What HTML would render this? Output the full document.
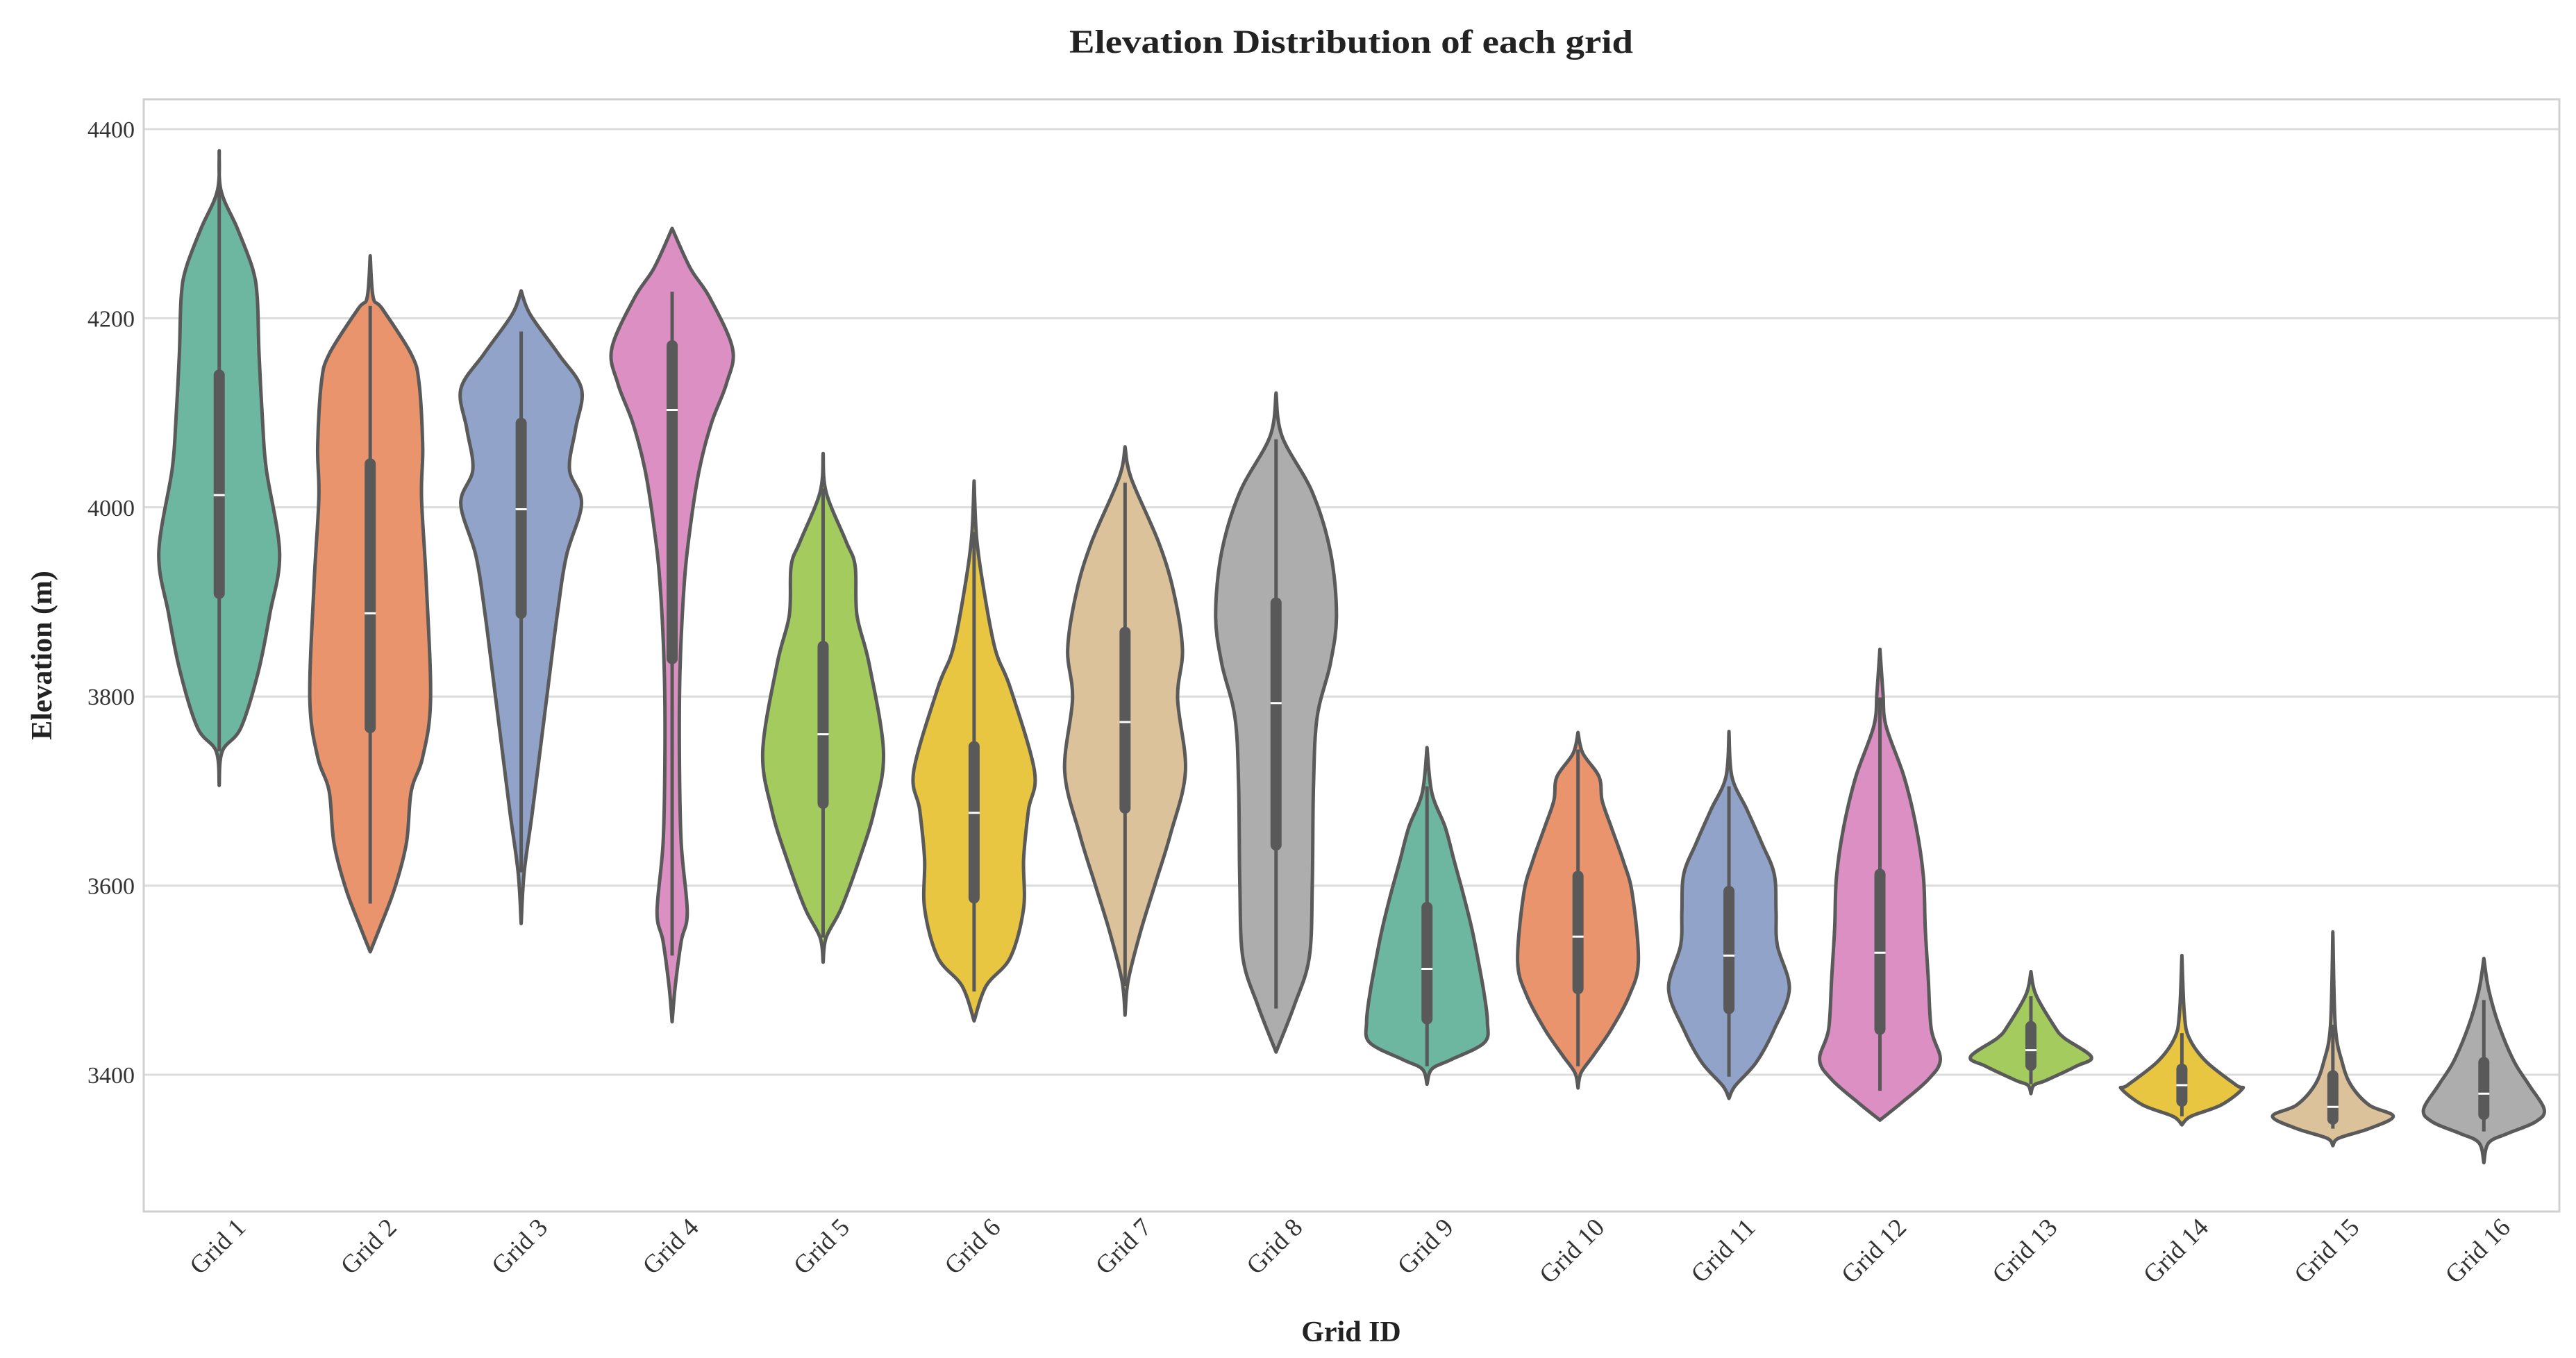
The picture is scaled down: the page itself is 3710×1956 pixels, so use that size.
<!DOCTYPE html>
<html><head><meta charset="utf-8"><style>
html,body{margin:0;padding:0;background:#fff;}
svg{display:block;font-family:"Liberation Serif","DejaVu Serif",serif;}
</style></head><body>
<svg id="chart" width="3710" height="1956" viewBox="0 0 3710 1956" xmlns="http://www.w3.org/2000/svg">
<rect x="0" y="0" width="3710" height="1956" fill="#fff"/>
<text x="1946" y="76" text-anchor="middle" font-size="48" font-weight="bold" fill="#222" textLength="812" lengthAdjust="spacingAndGlyphs">Elevation Distribution of each grid</text>
<g id="grid"></g>
<g id="violins"></g>
<rect x="207" y="143" width="3479" height="1602" fill="none" stroke="#d0d0d0" stroke-width="3"/>
<g id="yticks"></g>
<g id="xticks"></g>
<text x="0" y="0" transform="translate(74,944) rotate(-90)" text-anchor="middle" font-size="42" font-weight="bold" fill="#222">Elevation (m)</text>
<text x="1946" y="1932" text-anchor="middle" font-size="42" font-weight="bold" fill="#222">Grid ID</text>
</svg>
<script>
const categories = ["Grid 1","Grid 2","Grid 3","Grid 4","Grid 5","Grid 6","Grid 7","Grid 8","Grid 9","Grid 10","Grid 11","Grid 12","Grid 13","Grid 14","Grid 15","Grid 16"];
const yTicks = [3400,3600,3800,4000,4200,4400];
const colors = ["#6db7a0","#ea946e","#91a3c9","#dc8fc3","#a3cb5e","#e8c641","#dcc29a","#adadad","#6db7a0","#ea946e","#91a3c9","#dc8fc3","#a3cb5e","#e8c641","#dcc29a","#adadad"];
// violin profiles: elevations (top to bottom) and relative half-widths
const profElev = [
 [4377,4335,4295,4253,4222,4162,4089,4040,3952,3888,3827,3767,3742,3706],
 [4266,4222,4210,4162,4131,4064,4010,3919,3797,3736,3700,3645,3596,3554,3530],
 [4229,4204,4162,4125,4083,4040,4004,3949,3888,3797,3736,3675,3614,3560],
 [4295,4253,4222,4168,4131,4089,4040,3979,3919,3827,3736,3645,3572,3541,3493,3456],
 [4057,4016,3964,3938,3886,3835,3742,3680,3628,3576,3545,3519],
 [4028,3969,3917,3850,3809,3721,3680,3628,3576,3524,3494,3457],
 [4064,4031,3964,3912,3850,3798,3721,3654,3602,3550,3499,3463],
 [4121,4075,4016,3953,3886,3835,3778,3705,3602,3524,3473,3424],
 [3746,3698,3662,3626,3591,3555,3520,3484,3456,3434,3416,3406,3390],
 [3762,3740,3715,3690,3662,3626,3591,3520,3484,3448,3420,3402,3386],
 [3763,3715,3680,3644,3612,3573,3537,3491,3448,3413,3388,3375],
 [3850,3804,3769,3715,3662,3609,3555,3502,3448,3416,3395,3370,3352],
 [3509,3485,3452,3439,3419,3409,3394,3389,3380],
 [3526,3465,3439,3414,3389,3385,3368,3356,3347],
 [3551,3452,3414,3389,3368,3356,3343,3333,3325],
 [3523,3490,3452,3414,3389,3363,3350,3338,3328,3307]
];
const profWidth = [
 [0,0.03,0.3,0.55,0.63,0.66,0.72,0.78,1.0,0.84,0.65,0.36,0.05,0],
 [0,0.05,0.2,0.68,0.81,0.87,0.85,0.93,1.0,0.87,0.68,0.6,0.4,0.15,0],
 [0,0.15,0.62,1.0,0.9,0.8,1.0,0.75,0.6,0.42,0.3,0.18,0.05,0],
 [0,0.3,0.62,1.0,0.9,0.65,0.45,0.3,0.2,0.13,0.12,0.15,0.25,0.15,0.05,0],
 [0,0.05,0.38,0.53,0.56,0.76,1.0,0.85,0.6,0.3,0.05,0],
 [0,0.04,0.15,0.35,0.6,1.0,0.9,0.82,0.82,0.6,0.2,0],
 [0,0.1,0.55,0.8,0.95,0.87,1.0,0.75,0.5,0.25,0.05,0],
 [0,0.1,0.6,0.9,1.0,0.9,0.68,0.62,0.6,0.55,0.3,0],
 [0,0.08,0.3,0.45,0.6,0.74,0.85,0.95,1.0,0.95,0.4,0.08,0],
 [0,0.08,0.35,0.4,0.55,0.75,0.9,1.0,0.85,0.55,0.25,0.05,0],
 [0,0.05,0.3,0.55,0.75,0.78,0.8,1.0,0.75,0.45,0.1,0],
 [0,0.05,0.1,0.4,0.6,0.72,0.75,0.8,0.85,1.0,0.8,0.35,0],
 [0,0.08,0.38,0.55,1.0,0.75,0.25,0.05,0],
 [0,0.04,0.12,0.4,0.9,1.0,0.65,0.15,0],
 [0,0.04,0.15,0.3,0.6,1.0,0.6,0.1,0],
 [0,0.08,0.25,0.5,0.75,1.0,0.85,0.4,0.08,0]
];
const q1 = [3909,3767,3888,3840,3687,3587,3682,3643,3459,3491,3470,3448,3410,3372,3353,3358];
const q3 = [4140,4046,4089,4171,3853,3747,3868,3899,3577,3610,3594,3612,3451,3406,3399,3413];
const medians = [4013,3888,3998,4103,3760,3677,3773,3793,3512,3546,3526,3529,3426,3389,3366,3380];
const whiskLo = [3742,3581,3614,3526,3545,3488,3494,3470,3409,3409,3398,3383,3390,3356,3343,3340];
const whiskHi = [4335,4213,4186,4228,4020,3974,4026,4072,3705,3744,3705,3799,3483,3444,3453,3479];

const NS = "http://www.w3.org/2000/svg";
const L = 207, R = 3686, T = 143, B = 1745;
const step = (R - L) / categories.length;
const xc = i => L + step * (i + 0.5);
const y = v => 186 + (4400 - v) * 1.362;
const maxHalf = step * 0.4;
function mk(tag, attrs, parent) { const e = document.createElementNS(NS, tag); for (const k in attrs) e.setAttribute(k, attrs[k]); parent.appendChild(e); return e; }

const gG = document.getElementById('grid');
const yG = document.getElementById('yticks');
yTicks.forEach(v => {
  const ln = mk('line', {x1: L, x2: R, y1: y(v), y2: y(v), stroke: '#dcdcdc', 'stroke-width': 3}, gG);
  
  
  const t = mk('text', {x: 194, y: y(v) + 12, 'text-anchor': 'end', 'font-size': 34, fill: '#333'}, yG);
  t.textContent = v;
  
  
});

const xG = document.getElementById('xticks');
categories.forEach((c, i) => {
  const t = mk('text', {x: 0, y: 0, transform: 'translate(' + (xc(i) + 40) + ',1770) rotate(-45)', 'text-anchor': 'end', 'font-size': 37, fill: '#333'}, xG);
  t.textContent = c;
  
  
});

function smoothPath(pts) {
  let d = 'M' + pts[0][0].toFixed(1) + ',' + pts[0][1].toFixed(1);
  for (let i = 0; i < pts.length - 1; i++) {
    const p0 = pts[Math.max(0, i - 1)], p1 = pts[i], p2 = pts[i + 1], p3 = pts[Math.min(pts.length - 1, i + 2)];
    const c1 = [p1[0] + (p2[0] - p0[0]) / 6, p1[1] + (p2[1] - p0[1]) / 6];
    const c2 = [p2[0] - (p3[0] - p1[0]) / 6, p2[1] - (p3[1] - p1[1]) / 6];
    d += ' C' + c1[0].toFixed(1) + ',' + c1[1].toFixed(1) + ' ' + c2[0].toFixed(1) + ',' + c2[1].toFixed(1) + ' ' + p2[0].toFixed(1) + ',' + p2[1].toFixed(1);
  }
  return d;
}

const vG = document.getElementById('violins');
categories.forEach((c, i) => {
  const g = mk('g', {}, vG);
  
  
  const cx = xc(i);
  const el = profElev[i], w = profWidth[i];
  const right = el.map((v, k) => [cx + w[k] * maxHalf, y(v)]);
  const left = el.map((v, k) => [cx - w[k] * maxHalf, y(v)]).reverse();
  const d = smoothPath(right) + ' ' + smoothPath(left).replace(/^M/, 'L') + ' Z';
  const body = mk('path', {d: d, fill: colors[i], stroke: '#5a5a5a', 'stroke-width': 5, 'stroke-linejoin': 'round'}, g);
  
  
  const wh = mk('line', {x1: cx, x2: cx, y1: y(whiskHi[i]), y2: y(whiskLo[i]), stroke: '#595959', 'stroke-width': 5}, g);
  
  
  const bx = mk('line', {x1: cx, x2: cx, y1: y(q3[i]), y2: y(q1[i]), stroke: '#595959', 'stroke-width': 16, 'stroke-linecap': 'round'}, g);
  
  
  const md = mk('line', {x1: cx - 8, x2: cx + 8, y1: y(medians[i]), y2: y(medians[i]), stroke: '#fff', 'stroke-width': 3}, g);
  
  
});
</script>
</body></html>
